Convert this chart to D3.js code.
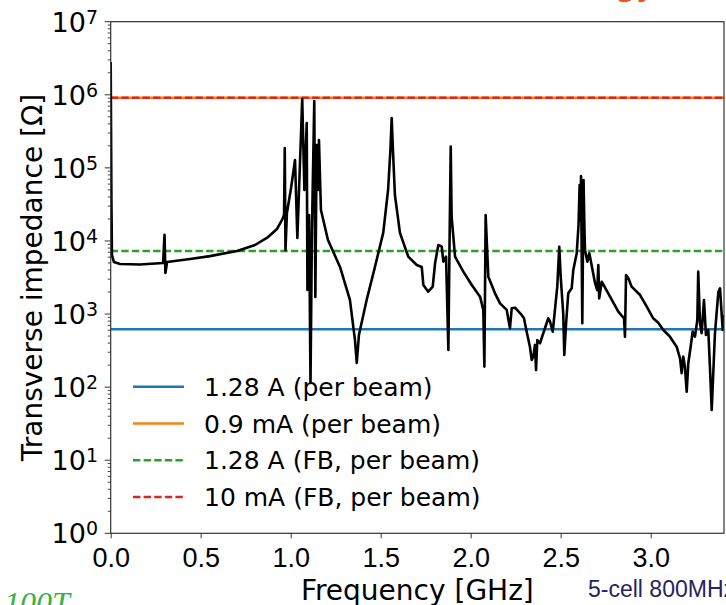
<!DOCTYPE html>
<html>
<head>
<meta charset="utf-8">
<script src="https://cdn.jsdelivr.net/npm/d3@7"></script>
<style>
  body { margin: 0; background: #fff; }
  svg { display: block; }
</style>
</head>
<body>
<div id="chart"></div>
<script>
// frequency (GHz) and transverse impedance (Ohm)
const freqGHz = [
  0.000, 0.004, 0.007, 0.018, 0.052, 0.163, 0.291, 0.299, 0.304, 0.313,
  0.441, 0.552, 0.702, 0.802, 0.874, 0.924, 0.952, 0.963, 0.967, 0.971,
  0.979, 1.002, 1.024, 1.037, 1.064, 1.076, 1.089, 1.093, 1.102, 1.110,
  1.118, 1.131, 1.137, 1.144, 1.152, 1.157, 1.168, 1.207, 1.274, 1.329,
  1.357, 1.367, 1.379, 1.422, 1.468, 1.514, 1.541, 1.554, 1.561, 1.568,
  1.579, 1.607, 1.653, 1.700, 1.728, 1.737, 1.764, 1.789, 1.802, 1.820,
  1.839, 1.848, 1.863, 1.876, 1.882, 1.889, 1.894, 1.913, 1.959, 2.006,
  2.052, 2.070, 2.076, 2.083, 2.098, 2.135, 2.163, 2.200, 2.218, 2.228,
  2.246, 2.283, 2.296, 2.311, 2.329, 2.339, 2.348, 2.357, 2.363, 2.370,
  2.385, 2.403, 2.431, 2.441, 2.456, 2.468, 2.481, 2.492, 2.500, 2.514,
  2.520, 2.530, 2.542, 2.561, 2.570, 2.589, 2.599, 2.605, 2.609, 2.613,
  2.620, 2.627, 2.632, 2.635, 2.648, 2.659, 2.691, 2.703, 2.709, 2.714,
  2.728, 2.774, 2.820, 2.852, 2.857, 2.863, 2.876, 2.894, 2.941, 2.978,
  3.014, 3.042, 3.070, 3.107, 3.144, 3.163, 3.172, 3.181, 3.190, 3.200,
  3.209, 3.222, 3.233, 3.246, 3.259, 3.264, 3.274, 3.283, 3.296, 3.307,
  3.320, 3.329, 3.339, 3.357, 3.376, 3.385, 3.400, 3.407
];
const impedance = [
  2.8e6, 3.6e4, 6.4e3, 5.15e3, 4.84e3, 4.77e3, 5.0e3, 1.21e4, 3.65e3, 5.15e3,
  5.66e3, 6.2e3, 7.3e3, 8.8e3, 1.13e4, 1.46e4, 1.94e4, 2.26e4, 1.87e5, 7.5e3,
  2.41e4, 5.3e4, 1.28e5, 1.10e4, 8.75e5, 4.98e4, 4.11e5, 2.13e3, 2.26e4, 114,
  1.41e4, 8.2e5, 1.71e3, 2.06e5, 4.98e4, 2.41e5, 2.65e4, 1.03e4, 4.41e3, 1.56e3,
  442, 214, 516, 1.56e3, 4.41e3, 1.29e4, 4.98e4, 1.76e5, 4.81e5, 1.76e5,
  4.26e4, 1.29e4, 6.1e3, 4.69e3, 4.41e3, 2.50e3, 2.02e3, 2.37e3, 4.94e3, 8.8e3,
  8.35e3, 5.2e3, 6.1e3, 322, 7.5e3, 1.95e5, 2.15e4, 6.1e3, 3.8e3, 2.50e3,
  1.73e3, 1.14e3, 191, 2.26e4, 3.24e3, 1.92e3, 1.40e3, 1.14e3, 638, 1.20e3,
  1.22e3, 971, 875, 574, 357, 235, 261, 378, 172, 442,
  398, 546, 875, 785, 574, 1.14e3, 2.37e3, 8.35e3, 3.24e3, 1.02e3,
  275, 748, 1.92e3, 2.25e3, 4.0e3, 6.8e3, 1.65e4, 5.8e4, 1.92e4, 7.7e4,
  748, 6.8e4, 1.41e4, 7.5e3, 5.2e3, 6.8e3, 2.64e3, 2.13e3, 4.69e3, 1.64e3,
  2.77e3, 1.73e3, 1.08e3, 875, 490, 3.42e3, 3.08e3, 2.37e3, 1.82e3, 1.26e3,
  875, 762, 605, 490, 357, 248, 155, 261, 191, 86.7,
  214, 357, 574, 490, 830, 3.8e3, 748, 546, 1.56e3, 516,
  605, 191, 48.6, 546, 2.02e3, 2.25e3, 605, 971
];

// threshold lines (legend order)
const thresholdLabels = ["1.28 A (per beam)", "0.9 mA (per beam)", "1.28 A (FB, per beam)", "10 mA (FB, per beam)"];
const thresholdValues = [617, 9.1e5, 7.3e3, 9.1e5];
const thresholdColors = ["#1f77b4", "#ff7f0e", "#2ca02c", "#d62728"];
const thresholdDashed = [false, false, true, true];

const xTicks = [0.0, 0.5, 1.0, 1.5, 2.0, 2.5, 3.0];
const yDecades = [0, 1, 2, 3, 4, 5, 6, 7];

const width = 726, height = 605;
const margin = { left: 110.7, right: 2, top: 21.7, bottom: 71.7 };
const plotW = width - margin.left - margin.right;
const plotH = height - margin.top - margin.bottom;

const svg = d3.select("#chart").append("svg")
  .attr("width", width)
  .attr("height", height)
  .style("font-family", "'DejaVu Sans', sans-serif");

const x = d3.scaleLinear().domain([0, plotW / 180]).range([margin.left, margin.left + plotW]);
const y = d3.scaleLog().domain([1, 1e7]).range([margin.top + plotH, margin.top]);

svg.append("defs").append("clipPath").attr("id", "plot-clip")
  .append("rect")
  .attr("x", margin.left).attr("y", margin.top)
  .attr("width", plotW).attr("height", plotH);

const plot = svg.append("g").attr("clip-path", "url(#plot-clip)");

// horizontal threshold lines
thresholdValues.forEach((v, i) => {
  plot.append("line")
    .attr("x1", margin.left).attr("x2", margin.left + plotW)
    .attr("y1", y(v)).attr("y2", y(v))
    .attr("stroke", thresholdColors[i])
    .attr("stroke-width", 2.5)
    .attr("stroke-dasharray", thresholdDashed[i] ? "7.4,3.2" : null);
});

// impedance curve
const points = freqGHz.map((f, i) => [f, impedance[i]]);
const line = d3.line().x(d => x(d[0])).y(d => y(d[1]));
plot.append("path")
  .datum(points)
  .attr("d", line)
  .attr("fill", "none")
  .attr("stroke", "#000")
  .attr("stroke-width", 2.6)
  .attr("stroke-linejoin", "round");

// axes
const xAxis = d3.axisBottom(x).tickValues(xTicks).tickFormat(d3.format(".1f")).tickSizeOuter(0).tickSize(5).tickPadding(6);
const gx = svg.append("g").attr("transform", `translate(0,${margin.top + plotH})`).call(xAxis);
gx.select(".domain").remove();
gx.selectAll(".tick line").attr("stroke", "#333");
gx.selectAll(".tick text")
  .attr("font-size", 27)
  .attr("fill", "#000")
  .attr("y", 34)
  .attr("dy", null);

// y axis: major + minor ticks
const majorVals = yDecades.map(e => Math.pow(10, e));
const minorVals = [];
yDecades.slice(0, -1).forEach(e => {
  for (let k = 2; k <= 9; k++) minorVals.push(k * Math.pow(10, e));
});
const gy = svg.append("g");
gy.selectAll(".minor").data(minorVals).enter().append("line")
  .attr("x1", margin.left - 3).attr("x2", margin.left)
  .attr("y1", d => y(d)).attr("y2", d => y(d))
  .attr("stroke", "#333").attr("stroke-width", 0.9);
gy.selectAll(".major").data(majorVals).enter().append("line")
  .attr("x1", margin.left - 6).attr("x2", margin.left)
  .attr("y1", d => y(d)).attr("y2", d => y(d))
  .attr("stroke", "#333").attr("stroke-width", 1);

const yLabels = gy.selectAll(".ylab").data(yDecades).enter().append("text")
  .attr("x", 98)
  .attr("y", d => y(Math.pow(10, d)) + 10)
  .attr("text-anchor", "end")
  .attr("font-size", 27)
  .attr("fill", "#000");
yLabels.append("tspan").text("10");
yLabels.append("tspan").attr("font-size", 19).attr("dy", -8).text(d => d);

// frame
svg.append("rect")
  .attr("x", margin.left).attr("y", margin.top)
  .attr("width", plotW).attr("height", plotH)
  .attr("fill", "none").attr("stroke", "#333").attr("stroke-width", 1.2);

// axis labels
svg.append("text")
  .attr("x", margin.left + plotW / 2).attr("y", 600)
  .attr("text-anchor", "middle").attr("font-size", 28)
  .text("Frequency [GHz]");
svg.append("text")
  .attr("transform", `translate(42,${margin.top + plotH / 2}) rotate(-90)`)
  .attr("text-anchor", "middle").attr("font-size", 28)
  .text("Transverse impedance [Ω]");

// legend (no frame)
const legend = svg.append("g");
thresholdLabels.forEach((lab, i) => {
  const ly = 386.7 + i * 36.8;
  legend.append("line")
    .attr("x1", 133).attr("x2", 184).attr("y1", ly).attr("y2", ly)
    .attr("stroke", thresholdColors[i]).attr("stroke-width", 2.5)
    .attr("stroke-dasharray", thresholdDashed[i] ? "7.4,3.2" : null);
  legend.append("text")
    .attr("x", 204).attr("y", ly + 9)
    .attr("font-size", 25)
    .text(lab);
});

// cut-off slide text around the figure
svg.append("text")
  .attr("x", 654).attr("y", -4)
  .attr("text-anchor", "end")
  .attr("font-size", 28).attr("font-weight", "bold")
  .attr("fill", "#f4511e")
  .text("Energy");
svg.append("text")
  .attr("x", 4).attr("y", 614)
  .attr("font-family", "'Liberation Serif', serif")
  .attr("font-style", "italic")
  .attr("font-size", 32)
  .attr("fill", "#3cb043")
  .text("100T");
svg.append("text")
  .attr("x", 588).attr("y", 597)
  .attr("font-family", "'Liberation Sans', Arial, sans-serif")
  .attr("font-size", 23)
  .attr("fill", "#1f2462")
  .text("5-cell 800MHz");
</script>
</body>
</html>
